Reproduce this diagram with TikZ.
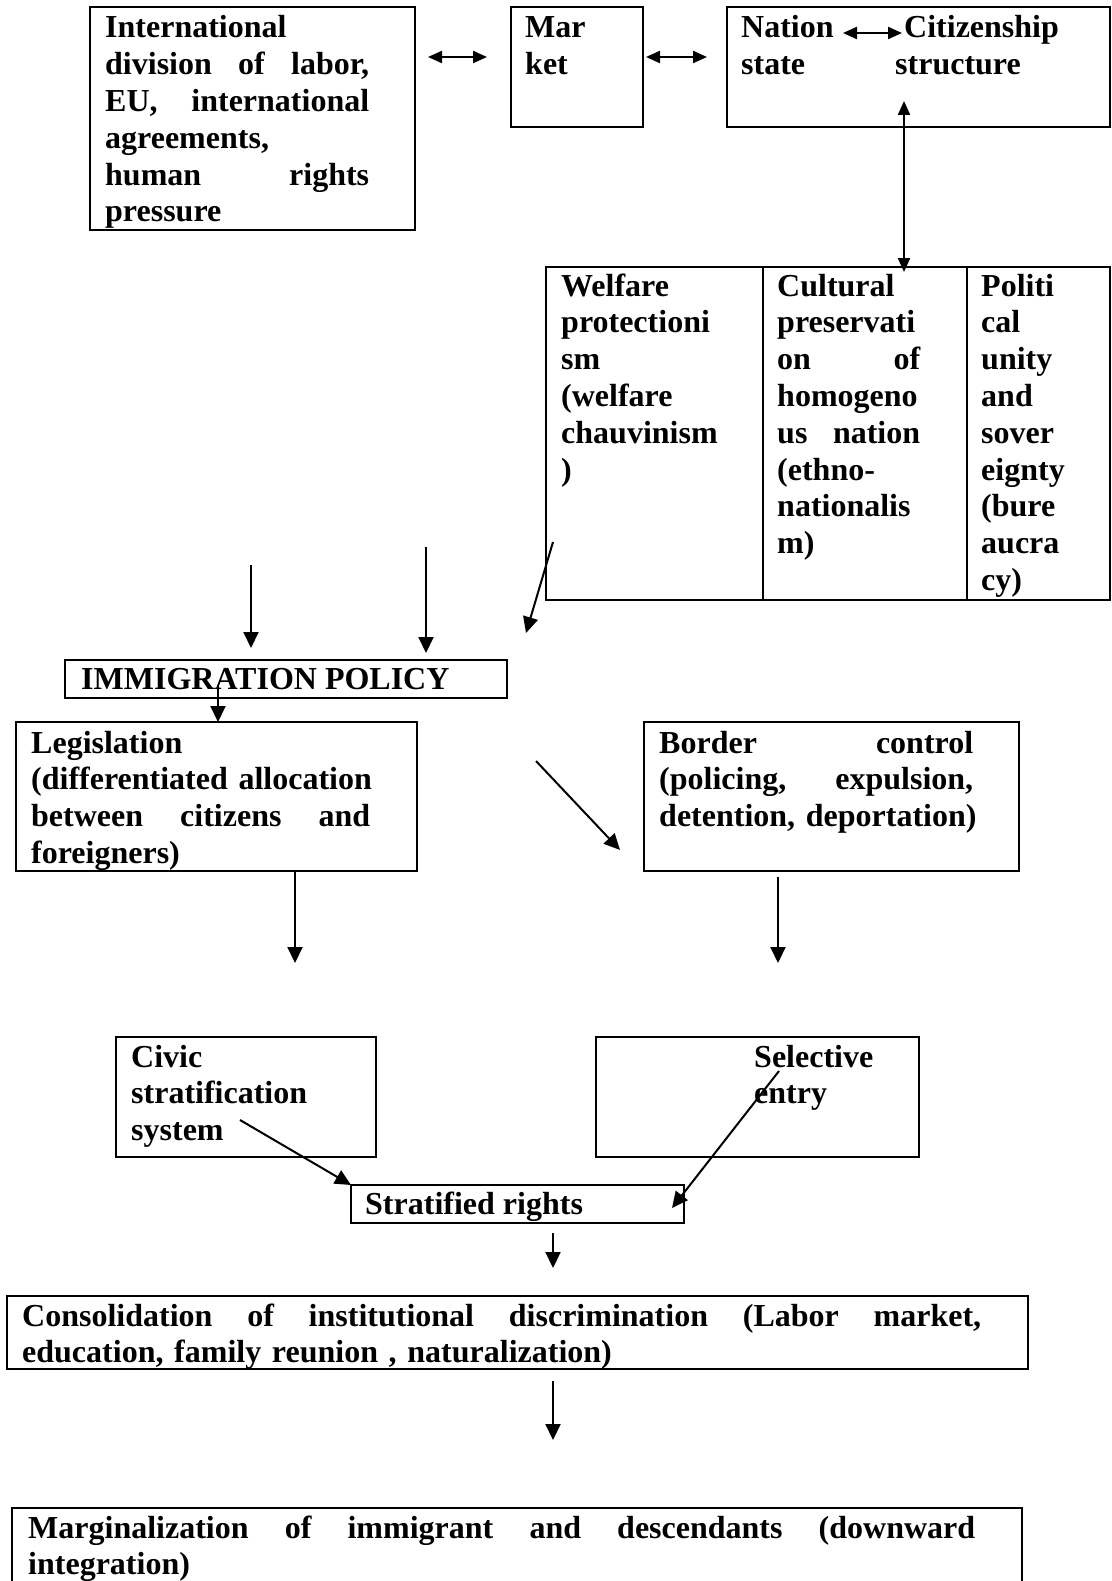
\documentclass[tikz,border=0pt]{standalone}
\usepackage{fontspec}
\setmainfont{Liberation Serif}
\usetikzlibrary{arrows.meta,positioning}
\newcommand{\jl}[2]{\makebox[#1pt][l]{#2}}

\begin{document}
\begin{tikzpicture}[x=1pt, y=-1pt,
    box/.style={draw, line width=2.6pt, rectangle, anchor=north west, inner sep=0pt, outer sep=0pt},
    txt/.style={anchor=base west, inner sep=0pt, align=left, font=\fontsize{32}{36.8}\selectfont\bfseries},
    arr/.style={line width=2pt, -{Triangle[length=16pt,width=15pt]}},
    dbl/.style={line width=2.2pt, {Triangle[length=14pt,width=12pt]}-{Triangle[length=14pt,width=12pt]}}]
    \useasboundingbox (0,0) rectangle (1111,1581);
    \clip (0,0) rectangle (1111,1581);

    % Top row
    \node[box, minimum width=325, minimum height=223] (intl) at (90,7) {};
    \node[txt, text width=264] (intltxt) at (105,38) {International\\\jl{264}{division\hfill of\hfill labor,}\\\jl{264}{EU,\hfill international}\\agreements,\\\jl{264}{human\hfill rights}\\pressure};
    \node[box, minimum width=132, minimum height=120] (mkt) at (511,7) {};
    \node[txt, text width=100] (mkttxt) at (525,38) {Mar\\ket};
    \node[box, minimum width=383, minimum height=120] (nat) at (727,7) {};
    \node[txt, text width=110] (nattxt) at (741,38) {Nation\\state};
    \node[txt, text width=190] (cittxt) at (895,38) {\hspace*{9pt}Citizenship\\structure};

    \draw[dbl] ([shift={(102,-5)}]nattxt.base west) -- ([shift={(7,-5)}]cittxt.base west);
    \draw[dbl] ([shift={(13,50)}]intl.north east) -- ([shift={(-24,50)}]mkt.north west);
    \draw[dbl] ([shift={(3,50)}]mkt.north east) -- ([shift={(-20,50)}]nat.north west);

    % Three columns
    \node[box, minimum width=217, minimum height=333] (welf) at (546,267) {};
    \node[box, minimum width=204, minimum height=333, right=0pt of welf] (cult) {};
    \node[box, minimum width=143, minimum height=333, right=0pt of cult] (polit) {};
    \node[txt, text width=190] (welftxt) at (561,296) {Welfare\\protectioni\\sm\\(welfare\\chauvinism\\)};
    \node[txt, text width=143] (culttxt) at (777,296) {Cultural\\preservati\\\jl{143}{on\hfill of}\\homogeno\\\jl{143}{us\hfill nation}\\(ethno-\\nationalis\\m)};
    \node[txt, text width=110] (polittxt) at (981,296) {Politi\\cal\\unity\\and\\sover\\eignty\\(bure\\aucra\\cy)};

    \draw[dbl] ([shift={(177,-26)}]nat.south west) -- ([shift={(141,5)}]cult.north west);

    % Immigration policy
    \node[box, minimum width=442, minimum height=38] (imm) at (65,660) {};
    \node[txt] (immtxt) at (81,689) {IMMIGRATION POLICY};

    \coordinate (ins1) at (251,565);
    \coordinate (ins2) at (426,547);
    \coordinate (ins3) at (553,542);
    \coordinate (ine3) at (526,633);
    \draw[arr, shorten >=12pt] (ins1) -- (ins1 |- imm.north);
    \draw[arr, shorten >=7pt] (ins2) -- (ins2 |- imm.north);
    \draw[arr] (ins3) -- (ine3);

    % Legislation and border control
    \node[box, minimum width=401, minimum height=149] (leg) at (16,722) {};
    \node[txt, text width=339] (legtxt) at (31,753) {Legislation\\\mbox{(differentiated allocation}\\\jl{339}{between\hfill citizens\hfill and}\\foreigners)};
    \node[box, minimum width=375, minimum height=149] (bord) at (644,722) {};
    \node[txt, text width=314] (bordtxt) at (659,753) {\jl{314}{Border\hfill control}\\\jl{314}{(policing,\hfill expulsion,}\\\mbox{detention, deportation)}};

    \coordinate (legin) at (218,685);
    \draw[arr] (legin) -- (legin |- leg.north);
    \coordinate (bds) at (536,761);
    \coordinate (bde) at (620,850);
    \draw[arr] (bds) -- (bde);

    \coordinate (lgd) at (295,963);
    \coordinate (bdd) at (778,963);
    \draw[arr] (lgd |- leg.south) -- (lgd);
    \draw[arr, shorten <=6pt] (bdd |- bord.south) -- (bdd);

    % Civic stratification and selective entry
    \node[box, minimum width=260, minimum height=120] (civ) at (116,1037) {};
    \node[txt, text width=230] (civtxt) at (131,1067) {Civic\\stratification\\system};
    \node[box, minimum width=323, minimum height=120] (sel) at (596,1037) {};
    \node[txt, text width=150] (seltxt) at (754,1067) {Selective\\entry};

    \node[box, minimum width=333, minimum height=38] (strat) at (351,1185) {};
    \node[txt] (strattxt) at (365,1214) {Stratified rights};

    \coordinate (civs) at (240,1120);
    \draw[arr] (civs) -- (strat.north west);
    \coordinate (sels) at (779,1071);
    \coordinate (sele) at (672,1208);
    \draw[arr] (sels) -- (sele);

    \coordinate (sd) at (553,1268);
    \draw[arr, shorten <=10pt] (sd |- strat.south) -- (sd);

    % Consolidation and marginalization
    \node[box, minimum width=1021, minimum height=73] (cons) at (7,1296) {};
    \node[txt, text width=959] (constxt) at (22,1326) {\jl{959}{Consolidation\hfill of\hfill institutional\hfill discrimination\hfill (Labor\hfill market,}\\education, family reunion , naturalization)};

    \coordinate (cd) at (553,1440);
    \draw[arr, shorten <=12pt] (cd |- cons.south) -- (cd);

    \node[box, minimum width=1010, minimum height=100] (marg) at (12,1508) {};
    \node[txt, text width=947] (margtxt) at (28,1538) {\jl{947}{Marginalization\hfill of\hfill immigrant\hfill and\hfill descendants\hfill (downward}\\integration)};

\end{tikzpicture}
\end{document}
